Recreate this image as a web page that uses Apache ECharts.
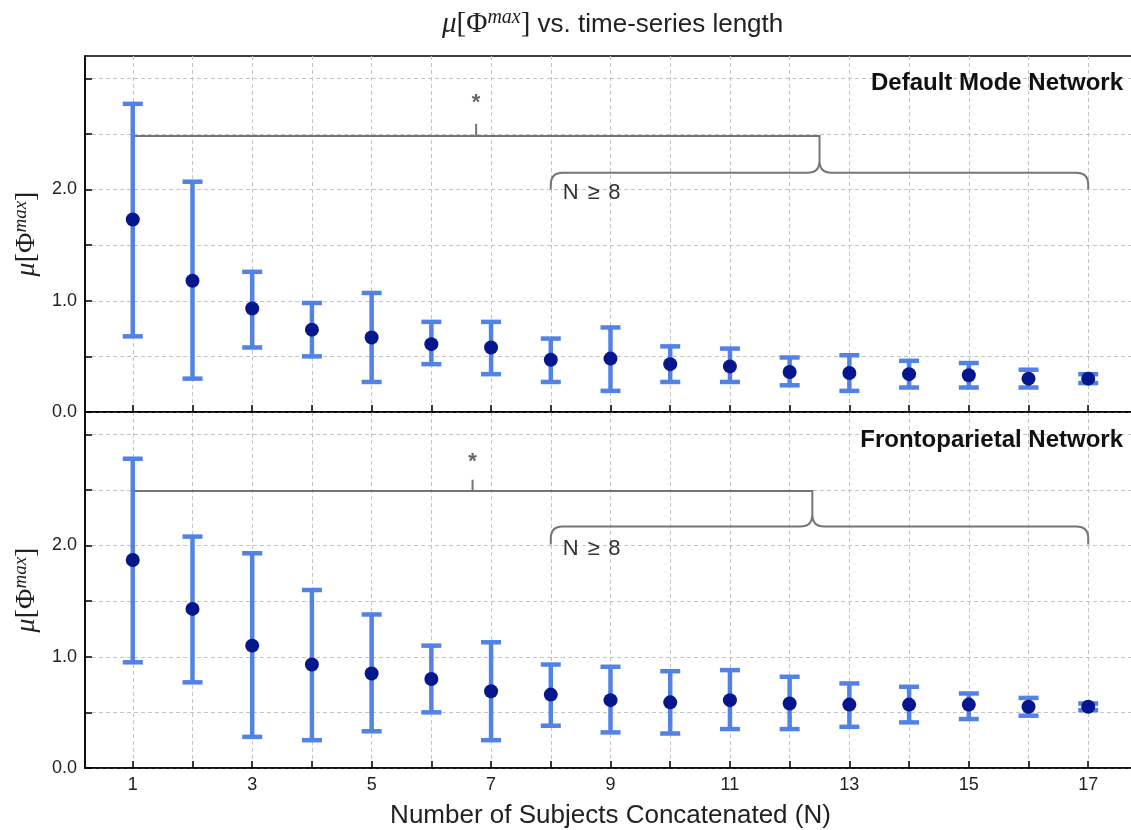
<!DOCTYPE html>
<html>
<head>
<meta charset="utf-8">
<script src="https://cdn.jsdelivr.net/npm/echarts@6/dist/echarts.min.js"></script>
<style>
  html, body { margin: 0; padding: 0; background: #fff; overflow: hidden; }
  #chart { width: 1131px; height: 830px; }
</style>
</head>
<body>
<div id="chart"></div>
<script>
// ---- data ----
const N = [1, 2, 3, 4, 5, 6, 7, 8, 9, 10, 11, 12, 13, 14, 15, 16, 17];
const xTickValues = [1, 2, 3, 4, 5, 6, 7, 8, 9, 10, 11, 12, 13, 14, 15, 16, 17];
const xLabelValues = [1, 3, 5, 7, 9, 11, 13, 15, 17];
const yTickValues = [0, 0.5, 1.0, 1.5, 2.0, 2.5, 3.0];
const yLabelValues = [0, 1, 2];

const dmnMean = [1.73, 1.18, 0.93, 0.74, 0.67, 0.61, 0.58, 0.47, 0.48, 0.43, 0.41, 0.36, 0.35, 0.34, 0.33, 0.30, 0.30];
const dmnLow  = [0.68, 0.30, 0.58, 0.50, 0.27, 0.43, 0.34, 0.27, 0.19, 0.27, 0.27, 0.24, 0.19, 0.22, 0.22, 0.22, 0.26];
const dmnHigh = [2.77, 2.07, 1.26, 0.98, 1.07, 0.81, 0.81, 0.66, 0.76, 0.59, 0.57, 0.49, 0.51, 0.46, 0.44, 0.38, 0.34];

const fpnMean = [1.87, 1.43, 1.10, 0.93, 0.85, 0.80, 0.69, 0.66, 0.61, 0.59, 0.61, 0.58, 0.57, 0.57, 0.57, 0.55, 0.55];
const fpnLow  = [0.95, 0.77, 0.28, 0.25, 0.33, 0.50, 0.25, 0.38, 0.32, 0.31, 0.35, 0.35, 0.37, 0.41, 0.44, 0.47, 0.52];
const fpnHigh = [2.78, 2.08, 1.93, 1.60, 1.38, 1.10, 1.13, 0.93, 0.91, 0.87, 0.88, 0.82, 0.76, 0.73, 0.67, 0.63, 0.58];

// bracket annotations: [leftX, leftDropY, lineY, braceTipX, braceY, braceLeftX, braceRightX, braceEndY, starX, starTickTopY, starLabelY, textX, textY]
const dmnBracket = [1, 2.25, 2.48, 12.5, 2.15, 8, 17, 2.0, 6.75, 2.59, 2.78, 8.2, 1.97];
const fpnBracket = [1, 2.28, 2.49, 12.38, 2.17, 8, 17, 2.01, 6.69, 2.59, 2.75, 8.2, 1.97];
const bracketLabel = 'N\u2009\u2009≥\u2009\u20098';
const starLabel = '*';

const panelNames = ['Default Mode Network', 'Frontoparietal Network'];
const xAxisName = 'Number of Subjects Concatenated (N)';

// ---- styling ----
const ERR_COLOR = '#5282e6';
const DOT_COLOR = '#06178e';
const BRACKET_COLOR = '#757575';
const SANS = 'Liberation Sans';
const SERIF = 'Liberation Serif';

function errData(low, high) {
  return N.map((n, i) => [n, low[i], high[i]]);
}
function dotData(mean) {
  return N.map((n, i) => [n, mean[i]]);
}

function renderErr(params, api) {
  const x = api.value(0);
  const lo = api.coord([x, api.value(1)]);
  const hi = api.coord([x, api.value(2)]);
  const hw = 10;
  const st = { stroke: ERR_COLOR, lineWidth: 4.5 };
  return {
    type: 'group',
    children: [
      { type: 'line', shape: { x1: lo[0], y1: lo[1], x2: hi[0], y2: hi[1] }, style: st },
      { type: 'line', shape: { x1: hi[0] - hw, y1: hi[1], x2: hi[0] + hw, y2: hi[1] }, style: st },
      { type: 'line', shape: { x1: lo[0] - hw, y1: lo[1], x2: lo[0] + hw, y2: lo[1] }, style: st }
    ]
  };
}

function renderBracket(params, api) {
  const v = (i) => api.value(i);
  const pDrop = api.coord([v(0), v(1)]);
  const pLeft = api.coord([v(0), v(2)]);
  const pTip = api.coord([v(3), v(2)]);
  const pBraceMid = api.coord([v(3), v(4)]);
  const pBL = api.coord([v(5), v(4)]);
  const pBR = api.coord([v(6), v(4)]);
  const pEndL = api.coord([v(5), v(7)]);
  const pEndR = api.coord([v(6), v(7)]);
  const pStarBase = api.coord([v(8), v(2)]);
  const pStarTop = api.coord([v(8), v(9)]);
  const pStarLabel = api.coord([v(8), v(10)]);
  const pText = api.coord([v(11), v(12)]);
  const r = 12;
  const yb = pBraceMid[1];
  const xt = pTip[0];
  const braceR = Math.min(r, (yb - pTip[1]) * 0.6);
  const path =
    'M' + pDrop[0] + ' ' + pDrop[1] +
    ' L' + pLeft[0] + ' ' + pLeft[1] +
    ' L' + xt + ' ' + pTip[1] +
    ' L' + xt + ' ' + (yb - braceR) +
    ' Q' + xt + ' ' + yb + ' ' + (xt - braceR) + ' ' + yb +
    ' L' + (pBL[0] + r) + ' ' + yb +
    ' Q' + pBL[0] + ' ' + yb + ' ' + pBL[0] + ' ' + (yb + r) +
    ' L' + pEndL[0] + ' ' + pEndL[1] +
    ' M' + xt + ' ' + (yb - braceR) +
    ' Q' + xt + ' ' + yb + ' ' + (xt + braceR) + ' ' + yb +
    ' L' + (pBR[0] - r) + ' ' + yb +
    ' Q' + pBR[0] + ' ' + yb + ' ' + pBR[0] + ' ' + (yb + r) +
    ' L' + pEndR[0] + ' ' + pEndR[1] +
    ' M' + pStarBase[0] + ' ' + pStarBase[1] +
    ' L' + pStarTop[0] + ' ' + pStarTop[1];
  return {
    type: 'group',
    children: [
      { type: 'path', shape: { pathData: path }, style: { stroke: BRACKET_COLOR, lineWidth: 2, fill: null } },
      { type: 'text', x: pStarLabel[0], y: pStarLabel[1],
        style: { text: starLabel, fill: '#666', fontSize: 22, fontFamily: SANS, fontWeight: 'bold', align: 'center', verticalAlign: 'middle' } },
      { type: 'text', x: pText[0], y: pText[1],
        style: { text: bracketLabel, fill: '#333', fontSize: 22, fontFamily: SANS, align: 'left', verticalAlign: 'middle' } }
    ]
  };
}

const gridLineStyle = { color: '#c4c4c4', width: 1, type: [4, 3] };

function makeX(gridIndex, showLabels) {
  return {
    type: 'value', gridIndex: gridIndex, min: 0.2, max: 17.8,
    axisLine: { show: true, onZero: false, lineStyle: { color: '#000', width: 1.5 } },
    axisTick: { show: true, inside: true, length: 7, customValues: xTickValues, lineStyle: { color: '#000', width: 1.5 } },
    axisLabel: { show: showLabels, customValues: xLabelValues, fontFamily: SANS, fontSize: 18, color: '#222', margin: 8 },
    splitLine: { show: true, lineStyle: gridLineStyle },
    name: showLabels ? xAxisName : '',
    nameLocation: 'middle', nameGap: 35,
    nameTextStyle: { fontFamily: SANS, fontSize: 26, color: '#222' }
  };
}

const yNameRich = {
  i: { fontFamily: SERIF, fontStyle: 'italic', fontSize: 28, color: '#222' },
  r: { fontFamily: SERIF, fontSize: 28, color: '#222' },
  sup: { fontFamily: SERIF, fontStyle: 'italic', fontSize: 19, color: '#222', padding: [0, 0, 13, 0] }
};

function makeY(gridIndex) {
  return {
    type: 'value', gridIndex: gridIndex, min: 0, max: 3.2, interval: 0.5,
    axisLine: { show: true, lineStyle: { color: '#000', width: 1.5 } },
    axisTick: { show: true, inside: true, length: 7, customValues: yTickValues, lineStyle: { color: '#000', width: 1.5 } },
    axisLabel: { customValues: yLabelValues, fontFamily: SANS, fontSize: 18, color: '#222', margin: 8,
      formatter: (val) => val.toFixed(1) },
    splitLine: { show: true, lineStyle: gridLineStyle },
    name: '{i|μ}{r|[Φ}{sup|max}{r|]}',
    nameLocation: 'middle', nameRotate: 90, nameGap: 40,
    nameTextStyle: { rich: yNameRich }
  };
}

const chart = echarts.init(document.getElementById('chart'), null, { renderer: 'canvas' });
chart.setOption({
  backgroundColor: '#fff',
  animation: false,
  title: [
    {
      text: '{i|μ}{r|[Φ}{sup|max}{r|]} vs. time-series length',
      left: 437, top: 3,
      textStyle: {
        fontFamily: SANS, fontSize: 26, fontWeight: 'normal', color: '#222',
        rich: {
          i: { fontFamily: SERIF, fontStyle: 'italic', fontSize: 29, color: '#222' },
          r: { fontFamily: SERIF, fontSize: 29, color: '#222' },
          sup: { fontFamily: SERIF, fontStyle: 'italic', fontSize: 20, color: '#222', padding: [0, 0, 13, 0] }
        }
      }
    },
    { text: panelNames[0], right: 3, top: 66,
      textStyle: { fontFamily: SANS, fontSize: 24, fontWeight: 'bold', color: '#111' } },
    { text: panelNames[1], right: 3, top: 423,
      textStyle: { fontFamily: SANS, fontSize: 24, fontWeight: 'bold', color: '#111' } }
  ],
  grid: [
    { left: 85, width: 1051, top: 56, height: 356, outerBoundsMode: 'none', containLabel: false, show: true, borderColor: '#000', borderWidth: 1.5, backgroundColor: 'transparent' },
    { left: 85, width: 1051, top: 412, height: 356, outerBoundsMode: 'none', containLabel: false, show: true, borderColor: '#000', borderWidth: 1.5, backgroundColor: 'transparent' }
  ],
  xAxis: [makeX(0, false), makeX(1, true)],
  yAxis: [makeY(0), makeY(1)],
  series: [
    { type: 'custom', xAxisIndex: 0, yAxisIndex: 0, renderItem: renderBracket, data: [dmnBracket], encode: { x: 0, y: 2 }, silent: true, clip: false },
    { type: 'custom', xAxisIndex: 1, yAxisIndex: 1, renderItem: renderBracket, data: [fpnBracket], encode: { x: 0, y: 2 }, silent: true, clip: false },
    { type: 'custom', xAxisIndex: 0, yAxisIndex: 0, renderItem: renderErr, data: errData(dmnLow, dmnHigh), encode: { x: 0, y: [1, 2] }, silent: true },
    { type: 'custom', xAxisIndex: 1, yAxisIndex: 1, renderItem: renderErr, data: errData(fpnLow, fpnHigh), encode: { x: 0, y: [1, 2] }, silent: true },
    { type: 'scatter', xAxisIndex: 0, yAxisIndex: 0, data: dotData(dmnMean), symbol: 'circle', symbolSize: 14, itemStyle: { color: DOT_COLOR, opacity: 1 }, silent: true, z: 5 },
    { type: 'scatter', xAxisIndex: 1, yAxisIndex: 1, data: dotData(fpnMean), symbol: 'circle', symbolSize: 14, itemStyle: { color: DOT_COLOR, opacity: 1 }, silent: true, z: 5 }
  ]
});
</script>
</body>
</html>
